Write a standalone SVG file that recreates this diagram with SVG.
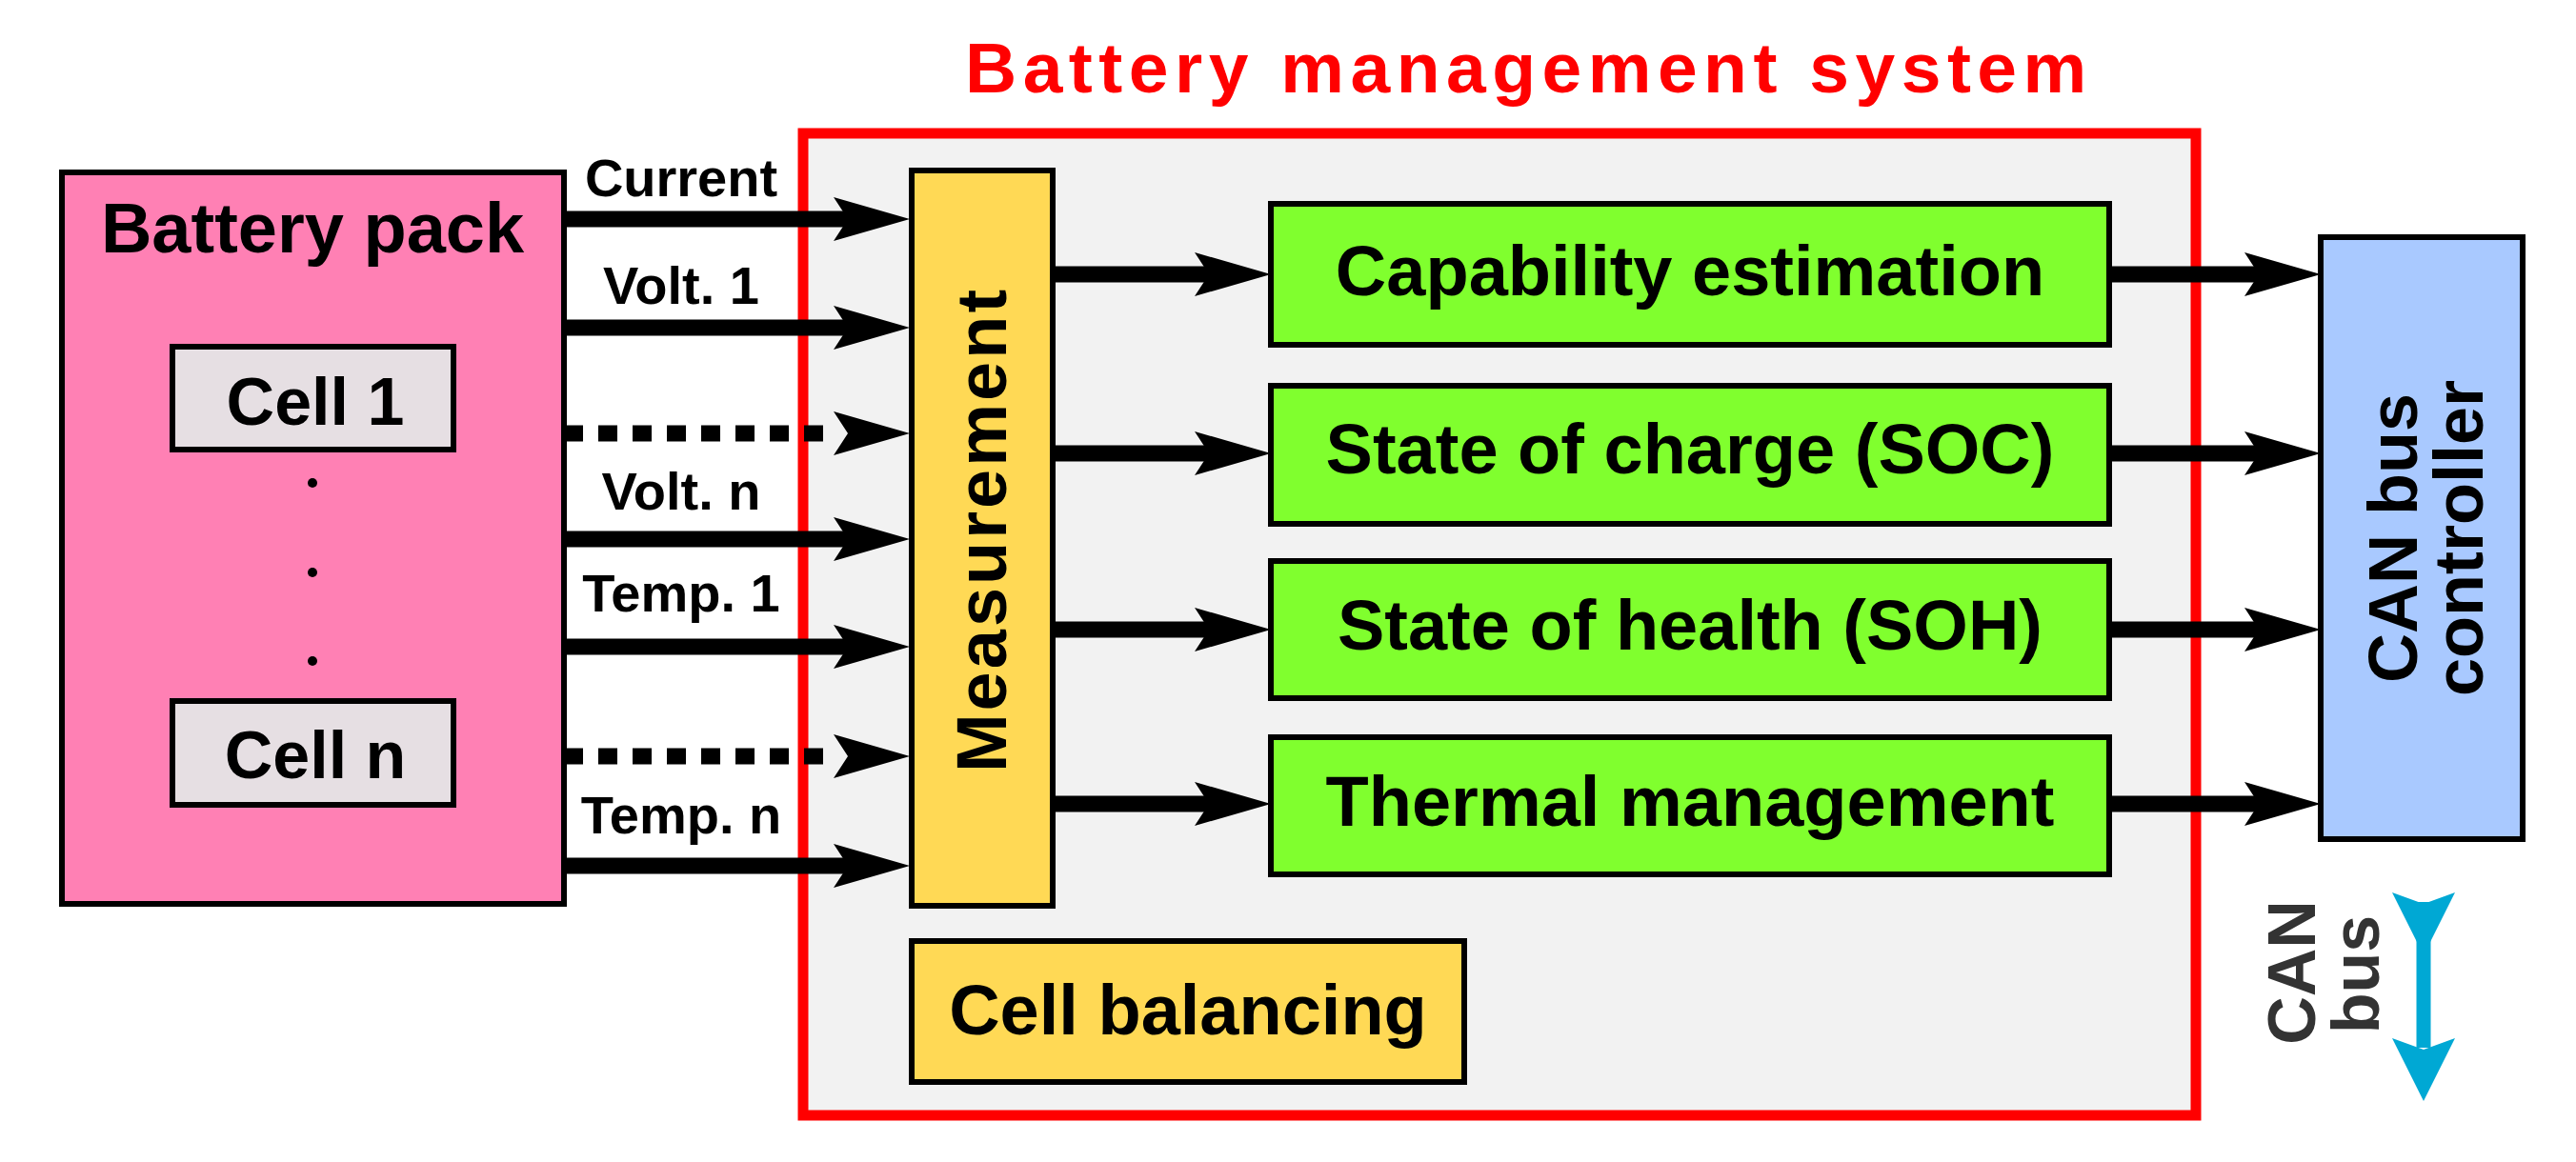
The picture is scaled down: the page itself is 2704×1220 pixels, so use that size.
<svg xmlns="http://www.w3.org/2000/svg" width="2704" height="1220" viewBox="0 0 2704 1220">
<style>
text{font-family:"Liberation Sans",Arial,sans-serif;font-weight:bold;fill:#000}
.box{stroke:#000;stroke-width:6}
.ln{stroke:#000;stroke-width:17;fill:none}
.dot{stroke:#000;stroke-width:17;fill:none;stroke-dasharray:20 16}
.lbl{font-size:56px;text-anchor:middle}
.big{font-size:74px}
</style>
<defs>
<marker id="ah" markerUnits="userSpaceOnUse" viewBox="0 0 80 46" markerWidth="80" markerHeight="46" refX="15" refY="23" orient="auto">
<path d="M0,0 L80,23 L0,46 L15,23 Z" fill="#000"/>
</marker>
<marker id="ch" markerUnits="userSpaceOnUse" viewBox="0 0 66 66" markerWidth="66" markerHeight="66" refX="10" refY="33" orient="auto">
<path d="M0,0 L66,33 L0,66 L12,33 Z" fill="#00a8d4"/>
</marker>
</defs>
<rect width="2704" height="1220" fill="#fff"/>
<g id="bms">
<rect x="843" y="140" width="1462" height="1031" fill="#f2f2f2" stroke="#ff0000" stroke-width="11"/>
<text x="1013" y="97" style="font-size:75px;letter-spacing:6.5px;fill:#ff0000">Battery management system</text>
</g>
<g id="pack">
<rect class="box" x="65" y="181" width="527" height="768" fill="#ff80b4"/>
<text class="big" x="328" y="265" text-anchor="middle">Battery pack</text>
<circle cx="328" cy="507" r="5" fill="#000"/>
<circle cx="328" cy="601" r="5" fill="#000"/>
<circle cx="328" cy="694" r="5" fill="#000"/>
</g>
<g id="cell1"><rect class="box" x="181" y="364" width="295" height="108" fill="#e6dfe3"/><text x="331" y="446" text-anchor="middle" style="font-size:70px">Cell 1</text></g>
<g id="celln"><rect class="box" x="181" y="736" width="295" height="109" fill="#e6dfe3"/><text x="331" y="817" text-anchor="middle" style="font-size:70px">Cell n</text></g>
<g id="measurement"><rect class="box" x="957" y="179" width="148" height="772" fill="#ffd955"/><text class="big" transform="translate(1056,556) rotate(-90)" text-anchor="middle" style="letter-spacing:3px">Measurement</text></g>
<g id="balancing"><rect class="box" x="957" y="988" width="580" height="148" fill="#ffd955"/><text class="big" x="1247" y="1086" text-anchor="middle">Cell balancing</text></g>
<g id="cap"><rect class="box" x="1334" y="214" width="880" height="148" fill="#80ff2e"/><text class="big" x="1774" y="310" text-anchor="middle">Capability estimation</text></g>
<g id="soc"><rect class="box" x="1334" y="405" width="880" height="145" fill="#80ff2e"/><text class="big" x="1774" y="497" text-anchor="middle">State of charge (SOC)</text></g>
<g id="soh"><rect class="box" x="1334" y="589" width="880" height="144" fill="#80ff2e"/><text class="big" x="1774" y="682" text-anchor="middle">State of health (SOH)</text></g>
<g id="thermal"><rect class="box" x="1334" y="774" width="880" height="144" fill="#80ff2e"/><text class="big" x="1774" y="867" text-anchor="middle">Thermal management</text></g>
<g id="can"><rect class="box" x="2436" y="249" width="212" height="632" fill="#a9c9ff"/>
<text transform="translate(2537,565) rotate(-90)" text-anchor="middle" style="font-size:72px">CAN bus</text>
<text transform="translate(2606,565) rotate(-90)" text-anchor="middle" style="font-size:72px">controller</text></g>
<g id="canbus-label">
<text transform="translate(2430,1021) rotate(-90)" text-anchor="middle" style="font-size:70px;fill:#333">CAN</text>
<text transform="translate(2497,1023) rotate(-90)" text-anchor="middle" style="font-size:70px;fill:#333">bus</text>
</g>
<g id="connectors">
<path class="ln" d="M592,230H890" marker-end="url(#ah)"/>
<path class="ln" d="M592,344H890" marker-end="url(#ah)"/>
<path class="dot" d="M592,455H874" />
<path class="ln" d="M874,455H890" marker-end="url(#ah)" style="stroke-width:0"/>
<path class="ln" d="M592,566H890" marker-end="url(#ah)"/>
<path class="ln" d="M592,679H890" marker-end="url(#ah)"/>
<path class="dot" d="M592,794H874"/>
<path class="ln" d="M874,794H890" marker-end="url(#ah)" style="stroke-width:0"/>
<path class="ln" d="M592,909H890" marker-end="url(#ah)"/>
<path class="ln" d="M1105,288H1269" marker-end="url(#ah)"/>
<path class="ln" d="M1105,476H1269" marker-end="url(#ah)"/>
<path class="ln" d="M1105,661H1269" marker-end="url(#ah)"/>
<path class="ln" d="M1105,844H1269" marker-end="url(#ah)"/>
<path class="ln" d="M2214,288H2371" marker-end="url(#ah)"/>
<path class="ln" d="M2214,476H2371" marker-end="url(#ah)"/>
<path class="ln" d="M2214,661H2371" marker-end="url(#ah)"/>
<path class="ln" d="M2214,844H2371" marker-end="url(#ah)"/>
<path d="M2544,947V1100" stroke="#00a8d4" stroke-width="15" fill="none" marker-start="url(#ch)" marker-end="url(#ch)"/>
<text class="lbl" x="715" y="206">Current</text>
<text class="lbl" x="715" y="319">Volt. 1</text>
<text class="lbl" x="715" y="535">Volt. n</text>
<text class="lbl" x="715" y="642">Temp. 1</text>
<text class="lbl" x="715" y="875">Temp. n</text>
</g>
</svg>
